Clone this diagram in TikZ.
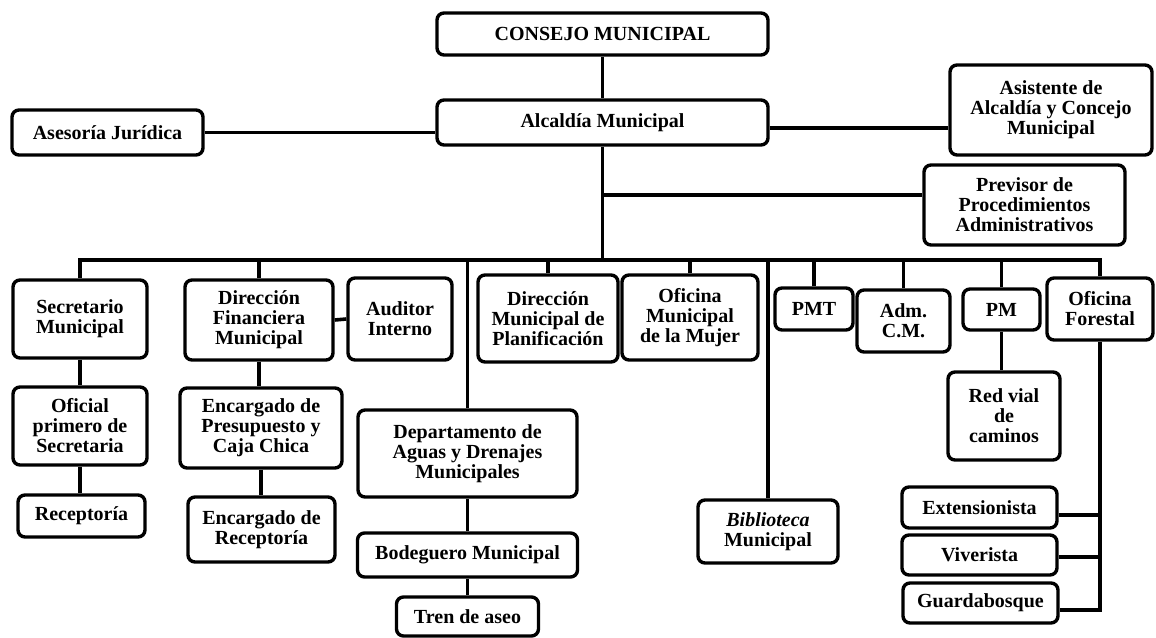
\documentclass[tikz,border=0pt]{standalone}
\usepackage{fontspec}
\setmainfont{Liberation Serif}
\begin{document}
\begin{tikzpicture}[x=1pt,y=-1pt,
  box/.style={draw=black, line width=3.4pt, rounded corners=7pt, fill=white,
    align=center, inner sep=0pt,
    font=\bfseries\fontsize{20}{20}\selectfont},
  conn/.style={draw=black, line width=3.6pt}]
\useasboundingbox (0,0) rectangle (1156,637);
\fill[white] (0,0) rectangle (1156,637);

% top level
\node[box, minimum width=331pt, minimum height=42pt] (consejo) at (602.5,34) {CONSEJO MUNICIPAL};
\node[box, minimum width=331pt, minimum height=45pt] (alcaldia) at (602.5,122.5) {Alcaldía Municipal};
\node[box, minimum width=191pt, minimum height=45pt] (asesoria) at (107.5,132.5) {Asesoría Jurídica};
\node[box, minimum width=202pt, minimum height=90pt] (asistente) at (1051,110) {Asistente de\\Alcaldía y Concejo\\Municipal};
\node[box, minimum width=201pt, minimum height=80pt] (previsor) at (1024.5,205) {Previsor de\\Procedimientos\\Administrativos};

% second level
\node[box, minimum width=134pt, minimum height=78pt] (secretario) at (80,319) {Secretario\\Municipal};
\node[box, minimum width=148pt, minimum height=80pt] (dirfin) at (259,320) {Dirección\\Financiera\\Municipal};
\node[box, minimum width=104pt, minimum height=82pt] (auditor) at (400,319) {Auditor\\Interno};
\node[box, minimum width=140pt, minimum height=87pt] (dmp) at (548,318.5) {Dirección\\Municipal de\\Planificación};
\node[box, minimum width=136pt, minimum height=85pt] (omm) at (690,317.5) {Oficina\\Municipal\\de la Mujer};
\node[box, minimum width=78pt, minimum height=42pt] (pmt) at (814,309) {PMT};
\node[box, minimum width=93pt, minimum height=62pt] (adm) at (903.5,321) {Adm.\\C.M.};
\node[box, minimum width=77pt, minimum height=41pt] (pm) at (1001.5,309.5) {PM};
\node[box, minimum width=106pt, minimum height=62pt] (forestal) at (1100,309) {Oficina\\Forestal};

% lower levels
\node[box, minimum width=134pt, minimum height=78pt] (oficial) at (80,426) {Oficial\\primero de\\Secretaria};
\node[box, minimum width=127pt, minimum height=42pt] (receptoria) at (81.5,516) {Receptoría};
\node[box, minimum width=162pt, minimum height=80pt] (encpres) at (261,428) {Encargado de\\Presupuesto y\\Caja Chica};
\node[box, minimum width=147pt, minimum height=65pt] (encrec) at (261.5,529.5) {Encargado de\\Receptoría};
\node[box, minimum width=219pt, minimum height=87pt] (depto) at (467.5,453.5) {Departamento de\\Aguas y Drenajes\\Municipales};
\node[box, minimum width=220pt, minimum height=44pt] (bodeguero) at (467.5,555) {Bodeguero Municipal};
\node[box, minimum width=142pt, minimum height=39pt] (tren) at (467.5,616.5) {Tren de aseo};
\node[box, minimum width=140pt, minimum height=63pt] (biblio) at (768,531.5) {\itshape Biblioteca\\Municipal};
\node[box, minimum width=112pt, minimum height=88pt] (redvial) at (1004,416) {Red vial\\de\\caminos};
\node[box, minimum width=155pt, minimum height=41pt] (extens) at (979.5,507.5) {Extensionista};
\node[box, minimum width=155pt, minimum height=40pt] (viver) at (979.5,555) {Viverista};
\node[box, minimum width=155pt, minimum height=40pt] (guarda) at (980.5,603) {Guardabosque};

% junction coordinates
\coordinate (jprev) at (602.5,195);
\coordinate (busL) at (80,260);
\coordinate (busR) at (1100,260);

% connectors
\draw[conn] (consejo.south) -- (alcaldia.north);
\draw[conn] (asesoria.east) -- (asesoria.east -| alcaldia.west);
\draw[conn] ([yshift=-5.5pt]alcaldia.east) -- ([yshift=-5.5pt]alcaldia.east -| asistente.west);
\draw[conn] (alcaldia.south) -- (alcaldia.south |- busL);
\draw[conn] (jprev) -- (jprev -| previsor.west);
\draw[conn] (secretario.north) -- (busL) -- (busR) -- (forestal.north);
\draw[conn] (dirfin.north) -- (dirfin.north |- busL);
\draw[conn] (dirfin.east) -- (auditor.west);
\draw[conn] (dmp.north) -- (dmp.north |- busL);
\draw[conn] (omm.north) -- (omm.north |- busL);
\draw[conn] (pmt.north) -- (pmt.north |- busL);
\draw[conn] (adm.north) -- (adm.north |- busL);
\draw[conn] (pm.north) -- (pm.north |- busL);
\draw[conn] (depto.north) -- (depto.north |- busL);
\draw[conn] (biblio.north) -- (biblio.north |- busL);
\draw[conn] (secretario.south) -- (oficial.north);
\draw[conn] (oficial.south) -- (oficial.south |- receptoria.north);
\draw[conn] (dirfin.south) -- (dirfin.south |- encpres.north);
\draw[conn] (encpres.south) -- (encpres.south |- encrec.north);
\draw[conn] (depto.south) -- (bodeguero.north);
\draw[conn] (bodeguero.south) -- (tren.north);
\draw[conn] (pm.south) -- (pm.south |- redvial.north);
\draw[conn] (forestal.south) -- ([yshift=-7pt]guarda.east -| forestal.south) -- ([yshift=-7pt]guarda.east);
\draw[conn] ([yshift=-7.5pt]extens.east) -- ([yshift=-7.5pt]extens.east -| forestal.south);
\draw[conn] ([yshift=-2pt]viver.east) -- ([yshift=-2pt]viver.east -| forestal.south);
\end{tikzpicture}
\end{document}
